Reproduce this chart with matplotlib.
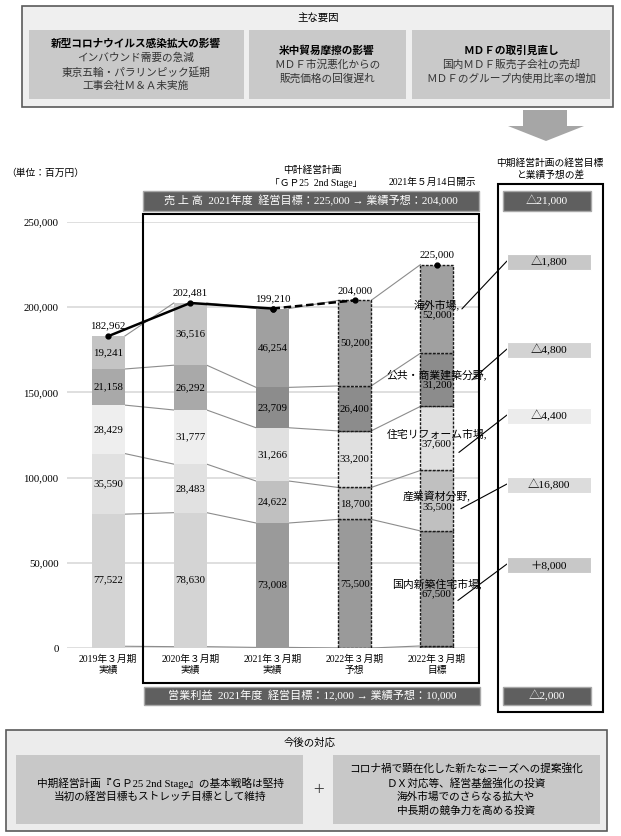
import numpy as np
import matplotlib
matplotlib.use("Agg")
import matplotlib.pyplot as plt
from matplotlib.patches import Rectangle, Polygon
from matplotlib.transforms import offset_copy

plt.rcParams['font.family'] = ['Liberation Serif', 'Noto Sans CJK JP', 'DejaVu Sans']

# ---- data (百万円) ----
periods = ['2019年３月期\n実績', '2020年３月期\n実績', '2021年３月期\n実績',
           '2022年３月期\n予想', '2022年３月期\n目標']
domestic = [77522, 78630, 73008, 75500, 67500]     # 国内新築住宅市場
industrial = [35590, 28483, 24622, 18700, 35500]   # 産業資材分野
reform = [28429, 31777, 31266, 33200, 37600]       # 住宅リフォーム市場
public = [21158, 26292, 23709, 26400, 31200]       # 公共・商業建築分野
overseas = [19241, 36516, 46254, 50200, 52000]     # 海外市場
totals = [182962, 202481, 199210, 204000, 225000]
seg_names = ['国内新築住宅市場', '産業資材分野', '住宅リフォーム市場',
             '公共・商業建築分野', '海外市場']

# 目標と予想の差 (右パネル)
diff_sales = '△21,000'
diff_segments = ['△1,800', '△4,800', '△4,400', '△16,800', '＋8,000']  # 海外, 公共, リフォーム, 産業, 国内
diff_op = '△2,000'

W, H = 621, 836
fig = plt.figure(figsize=(W / 100, H / 100), dpi=100)


def box(x0, y0, x1, y1, fc, ec='none', lw=1.0, ls='-'):
    r = Rectangle((x0 / W, 1 - y1 / H), (x1 - x0) / W, (y1 - y0) / H,
                  transform=fig.transFigure, facecolor=fc, edgecolor=ec,
                  linewidth=lw, linestyle=ls)
    fig.add_artist(r)


def txt(x, y, s, size=7.7, color='black', weight='normal', ha='center'):
    fig.text(x / W, 1 - y / H, s, ha=ha, va='center', fontsize=size,
             color=color, fontweight=weight)


# ---- 主な要因 ----
box(22, 6, 613, 107, '#efefef', '#5a5a5a', 1.2)
txt(318, 18, '主な要因', 7.5)
box(29, 30, 244, 99, '#c9c9c9')
box(249, 30, 406, 99, '#c9c9c9')
box(412, 30, 610, 99, '#c9c9c9')
txt(136, 44, '新型コロナウイルス感染拡大の影響', 7.7, weight='bold')
txt(136, 58, 'インバウンド需要の急減', 7.7, '#333333')
txt(136, 72, '東京五輪・パラリンピック延期', 7.7, '#333333')
txt(136, 86, '工事会社Ｍ＆Ａ未実施', 7.7, '#333333')
txt(327, 51, '米中貿易摩擦の影響', 7.7, weight='bold')
txt(327, 65, 'ＭＤＦ市況悪化からの', 7.7, '#333333')
txt(327, 79, '販売価格の回復遅れ', 7.7, '#333333')
txt(511, 51, 'ＭＤＦの取引見直し', 7.7, weight='bold')
txt(511, 65, '国内ＭＤＦ販売子会社の売却', 7.7, '#333333')
txt(511, 79, 'ＭＤＦのグループ内使用比率の増加', 7.7, '#333333')

# arrow
arrow = Polygon([(523 / W, 1 - 110 / H), (567 / W, 1 - 110 / H), (567 / W, 1 - 126 / H),
                 (584 / W, 1 - 126 / H), (546 / W, 1 - 141 / H), (508 / W, 1 - 126 / H),
                 (523 / W, 1 - 126 / H)], closed=True, transform=fig.transFigure,
                facecolor='#a6a6a6', edgecolor='none')
fig.add_artist(arrow)

# ---- chart headers ----
txt(6, 173, '（単位：百万円）', 7, ha='left')
txt(312, 170, '中計経営計画', 7)
txt(316, 183, '「ＧＰ25  2nd Stage」', 7)
txt(432, 182, '2021年５月14日開示', 7)
box(143, 191, 479, 211, '#5f5f5f', '#a8a8a8', 1.0)
txt(311, 201, '売 上 高  2021年度  経営目標：225,000 → 業績予想：204,000', 8, 'white')
box(143, 214, 479, 683, 'none', 'black', 1.5)
box(144, 687, 480, 705, '#5f5f5f', '#a8a8a8', 1.0)
txt(312, 696, '営業利益  2021年度  経営目標：12,000 → 業績予想：10,000', 8, 'white')

# ---- stacked bar chart ----
ax = fig.add_axes([67 / W, 1 - 648 / H, (478 - 67) / W, (648 - 222) / H])
x = np.arange(len(periods))
bw = 0.40
series = [domestic, industrial, reform, public, overseas]
other = np.array(totals) - np.sum(series, axis=0)
pal_actual = ['#d4d4d4', '#e1e1e1', '#eeeeee', '#a9a9a9', '#c4c4c4']
pal_plan = ['#9a9a9a', '#c0c0c0', '#e0e0e0', '#8c8c8c', '#a0a0a0']

layers = [other] + [np.array(s) for s in series]
bottoms = []
base = np.zeros(len(x))
for li, vals in enumerate(layers):
    bottoms.append(base.copy())
    for i in range(len(x)):
        cidx = max(li - 1, 0)
        fc = pal_actual[cidx] if i < 2 else pal_plan[cidx]
        if i >= 3:
            ax.bar(x[i], vals[i], bw, bottom=base[i], color=fc, edgecolor='#1a1a1a',
                   linewidth=1.0, linestyle=(0, (2, 1)), zorder=2)
        else:
            ax.bar(x[i], vals[i], bw, bottom=base[i], color=fc, linewidth=0, zorder=2)
    base = base + vals
tops = bottoms[1:] + [base]

# connector lines between bars
for level in tops:
    for i in range(len(x) - 1):
        ax.plot([x[i] + bw / 2, x[i + 1] - bw / 2], [level[i], level[i + 1]],
                color='#8c8c8c', lw=0.8, zorder=1)

# segment labels
for si, vals in enumerate(series):
    mids = bottoms[si + 1] + np.array(vals) / 2
    for i in range(len(x)):
        s = f'{vals[i]:,}'
        if i == 4:
            s = f'{seg_names[si]},\n{vals[i]:,}'
        ax.text(x[i], mids[i], s, ha='center', va='center', fontsize=7.8,
                zorder=5, linespacing=1.0)

# total line
ax.plot(x[:3], totals[:3], color='black', lw=1.8, marker='o', ms=3.5, zorder=4)
ax.plot(x[2:4], totals[2:4], color='black', lw=1.8, ls=(0, (3, 1.5)),
        marker='o', ms=3.5, zorder=4)
ax.plot(x[4], totals[4], color='black', marker='o', ms=3.5, zorder=4)
for i in range(len(x)):
    ax.annotate(f'{totals[i]:,}', (x[i], totals[i]), xytext=(0, 4),
                textcoords='offset points', ha='center', va='bottom', fontsize=7.8)

ax.set_xlim(-0.5, 4.5)
ax.set_ylim(0, 250000)
ax.set_yticks(range(0, 250001, 50000))
ax.set_yticklabels([f'{v:,}' for v in range(0, 250001, 50000)], fontsize=7.8)
ax.set_xticks(x)
ax.set_xticklabels(periods, fontsize=7, linespacing=1.3)
ax.tick_params(length=0)
ax.tick_params(axis='y', pad=6)
ax.tick_params(axis='x', pad=5)
ax.yaxis.grid(True, color='#dcdcdc', lw=1.3)
ax.set_axisbelow(True)
for sp in ax.spines.values():
    sp.set_visible(False)
ax.patch.set_alpha(0)

# ---- right panel ----
txt(550, 163, '中期経営計画の経営目標', 7)
txt(550, 175, 'と業績予想の差', 7)
box(498, 184, 603, 712, 'none', 'black', 1.5)
box(503, 191, 591, 211, '#5f5f5f', '#a8a8a8', 1.0)
txt(547, 201, diff_sales, 8.2, 'white')
box(503, 687, 591, 705, '#5f5f5f', '#a8a8a8', 1.0)
txt(547, 696, diff_op, 8.2, 'white')

box_y = [262, 350, 416, 485, 565]
box_fc = ['#c8c8c8', '#d3d3d3', '#ececec', '#dcdcdc', '#c8c8c8']
seg_order = [4, 3, 2, 1, 0]          # 海外, 公共, リフォーム, 産業, 国内
end_off = [(25, 0), (35, 0), (22, 14), (24, 8), (21, 12)]
for k in range(5):
    cy = box_y[k]
    box(507, cy - 8, 591, cy + 8, box_fc[k], 'white', 0.8)
    txt(549, cy, diff_segments[k], 8.2)
    si = seg_order[k]
    mid = bottoms[si + 1][4] + series[si][4] / 2
    dx, dy = end_off[k]
    tr = offset_copy(ax.transData, fig=fig, x=dx, y=-dy, units='dots')
    ax.annotate('', xy=(x[4], mid), xycoords=tr, xytext=(507, H - cy + 1),
                textcoords='figure pixels', annotation_clip=False,
                arrowprops=dict(arrowstyle='-', color='black', lw=0.8,
                                shrinkA=0, shrinkB=0))

# ---- 今後の対応 ----
box(6, 730, 607, 831, '#ececec', '#5a5a5a', 1.2)
txt(310, 743, '今後の対応', 7.5)
box(16, 755, 303, 824, '#c8c8c8')
box(333, 755, 600, 824, '#c8c8c8')
txt(160, 783, '中期経営計画『ＧＰ25 2nd Stage』の基本戦略は堅持', 7.7)
txt(160, 797, '当初の経営目標もストレッチ目標として維持', 7.7)
txt(318, 790, '＋', 9, '#333333')
txt(466, 768, 'コロナ禍で顕在化した新たなニーズへの提案強化', 7.7)
txt(466, 783, 'ＤＸ対応等、経営基盤強化の投資', 7.7)
txt(466, 797, '海外市場でのさらなる拡大や', 7.7)
txt(466, 811, '中長期の競争力を高める投資', 7.7)

fig.savefig('out.png', dpi=100)
